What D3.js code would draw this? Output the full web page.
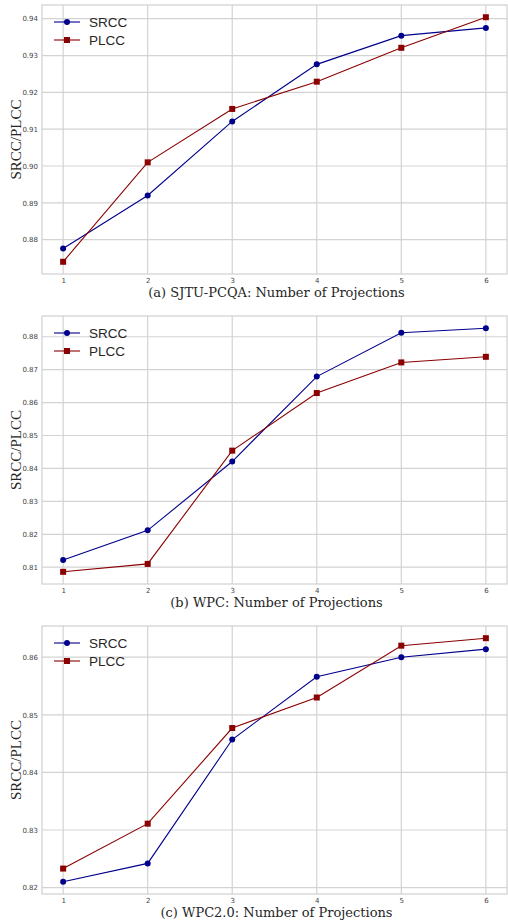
<!DOCTYPE html>
<html>
<head>
<meta charset="utf-8">
<script src="https://cdn.jsdelivr.net/npm/d3@7"></script>
<style>
  body { margin: 0; background: #fff; }
  svg { display: block; }
</style>
</head>
<body>
<script>
const W = 508, H = 924;

const projections = [1, 2, 3, 4, 5, 6];
const seriesNames = ["SRCC", "PLCC"];

const srccA = [0.8776, 0.8920, 0.9121, 0.9276, 0.9354, 0.9375];
const plccA = [0.8740, 0.9010, 0.9155, 0.9229, 0.9321, 0.9404];
const ticksA = [0.88, 0.89, 0.90, 0.91, 0.92, 0.93, 0.94];

const srccB = [0.8122, 0.8212, 0.8421, 0.8679, 0.8812, 0.8826];
const plccB = [0.8086, 0.8110, 0.8454, 0.8629, 0.8722, 0.8739];
const ticksB = [0.81, 0.82, 0.83, 0.84, 0.85, 0.86, 0.87, 0.88];

const srccC = [0.8210, 0.8242, 0.8457, 0.8566, 0.8600, 0.8614];
const plccC = [0.8233, 0.8311, 0.8477, 0.8530, 0.8620, 0.8633];
const ticksC = [0.82, 0.83, 0.84, 0.85, 0.86];

const titles = [
    "(a) SJTU-PCQA: Number of Projections",
    "(b) WPC: Number of Projections",
    "(c) WPC2.0: Number of Projections"
];

const colors = { SRCC: "#00008b", PLCC: "#8b0000" };

const svg = d3.select("body").append("svg")
    .attr("width", W)
    .attr("height", H);

const panels = [
    { top: 5, bottom: 274, srcc: srccA, plcc: plccA, ticks: ticksA, title: titles[0] },
    { top: 316, bottom: 584, srcc: srccB, plcc: plccB, ticks: ticksB, title: titles[1] },
    { top: 626, bottom: 894, srcc: srccC, plcc: plccC, ticks: ticksC, title: titles[2] }
];

const left = 42, right = 507;

panels.forEach(drawPanel);

function drawPanel(p) {
    const g = svg.append("g");

    // matplotlib style 5% margins
    const x = d3.scaleLinear()
        .domain([1 - 0.25, 6 + 0.25])
        .range([left, right]);

    const all = p.srcc.concat(p.plcc);
    const lo = d3.min(all), hi = d3.max(all), pad = (hi - lo) * 0.05;
    const y = d3.scaleLinear()
        .domain([lo - pad, hi + pad])
        .range([p.bottom, p.top]);

    // grid
    g.append("g").selectAll("line")
        .data(p.ticks)
        .enter().append("line")
        .attr("x1", left).attr("x2", right)
        .attr("y1", d => y(d)).attr("y2", d => y(d))
        .style("stroke", "#d3d3d3")
        .style("stroke-width", 1.2);

    g.append("g").selectAll("line")
        .data(projections)
        .enter().append("line")
        .attr("x1", d => x(d)).attr("x2", d => x(d))
        .attr("y1", p.top).attr("y2", p.bottom)
        .style("stroke", "#d3d3d3")
        .style("stroke-width", 1.2);

    g.append("rect")
        .attr("x", left).attr("y", p.top)
        .attr("width", right - left).attr("height", p.bottom - p.top)
        .style("fill", "none")
        .style("stroke", "#d0d0d0")
        .style("stroke-width", 1.2);

    // axes (labels only, no tick marks)
    const yAxis = g.append("g")
        .attr("transform", `translate(${left},0)`)
        .call(d3.axisLeft(y).tickValues(p.ticks).tickFormat(d3.format(".2f")).tickSize(0).tickPadding(4));
    const xAxis = g.append("g")
        .attr("transform", `translate(0,${p.bottom})`)
        .call(d3.axisBottom(x).tickValues(projections).tickFormat(d3.format("d")).tickSize(0).tickPadding(4));
    [yAxis, xAxis].forEach(a => {
        a.select(".domain").remove();
        a.selectAll("text")
            .style("font-family", "DejaVu Sans, sans-serif")
            .style("font-size", "7px")
            .style("fill", "#444");
    });

    // lines
    const line = d3.line()
        .x((d, i) => x(projections[i]))
        .y(d => y(d));

    [["SRCC", p.srcc], ["PLCC", p.plcc]].forEach(([name, vals]) => {
        g.append("path")
            .datum(vals)
            .attr("d", line)
            .style("fill", "none")
            .style("stroke", colors[name])
            .style("stroke-width", 1.1);

        if (name === "SRCC") {
            g.append("g").selectAll("circle")
                .data(vals)
                .enter().append("circle")
                .attr("cx", (d, i) => x(projections[i]))
                .attr("cy", d => y(d))
                .attr("r", 3)
                .style("fill", colors[name]);
        } else {
            g.append("g").selectAll("rect")
                .data(vals)
                .enter().append("rect")
                .attr("x", (d, i) => x(projections[i]) - 3)
                .attr("y", d => y(d) - 3)
                .attr("width", 6).attr("height", 6)
                .style("fill", colors[name]);
        }
    });

    // legend
    seriesNames.forEach((name, i) => {
        const ly = p.top + 17 + i * 18;
        g.append("line")
            .attr("x1", 54).attr("x2", 80)
            .attr("y1", ly).attr("y2", ly)
            .style("stroke", colors[name])
            .style("stroke-width", 1.1);
        if (name === "SRCC") {
            g.append("circle").attr("cx", 67).attr("cy", ly).attr("r", 3).style("fill", colors[name]);
        } else {
            g.append("rect").attr("x", 64).attr("y", ly - 3).attr("width", 6).attr("height", 6).style("fill", colors[name]);
        }
        g.append("text")
            .attr("x", 89).attr("y", ly + 4.5)
            .style("font-family", "Liberation Sans, Arial, sans-serif")
            .style("font-size", "13.5px")
            .style("fill", "#262626")
            .text(name);
    });

    // axis titles
    g.append("text")
        .attr("transform", `translate(21,${(p.top + p.bottom) / 2}) rotate(-90)`)
        .attr("text-anchor", "middle")
        .style("font-family", "Liberation Serif, serif")
        .style("font-size", "15px")
        .style("fill", "#262626")
        .text("SRCC/PLCC");

    g.append("text")
        .attr("x", (left + right) / 2 + 2)
        .attr("y", p.bottom + 23)
        .attr("text-anchor", "middle")
        .style("font-family", "DejaVu Serif, serif")
        .style("font-size", "13px")
        .style("fill", "#262626")
        .text(p.title);
}
</script>
</body>
</html>
